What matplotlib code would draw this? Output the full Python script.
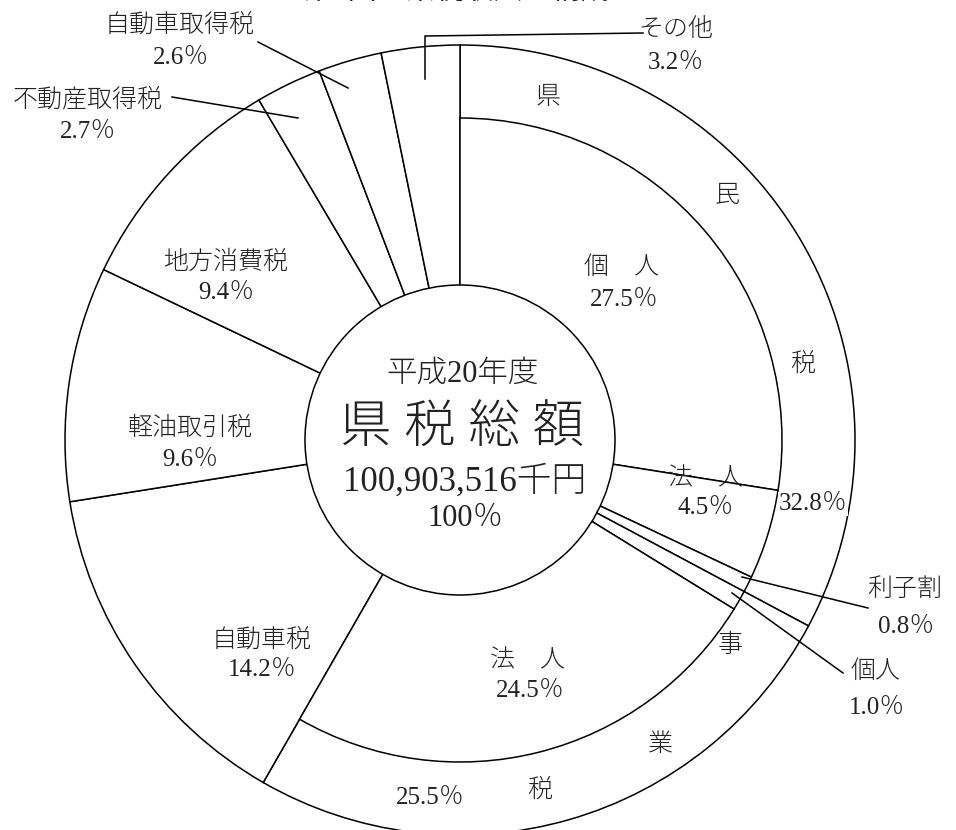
import matplotlib
matplotlib.use("Agg")
import matplotlib.pyplot as plt
from matplotlib.patches import Circle

plt.rcParams['font.family'] = ['Liberation Serif', 'Noto Sans CJK JP']

# Tax revenue by category (% of total)
main_labels = ["県民税", "事業税", "自動車税", "軽油取引税", "地方消費税",
               "不動産取得税", "自動車取得税", "その他"]
main_values = [32.8, 25.5, 14.2, 9.6, 9.4, 2.7, 2.6, 3.2]

# Breakdown of 県民税 (個人, 法人, 利子割) and 事業税 (個人, 法人)
sub_labels = ["個　人", "法　人", "利子割", "個人", "法　人"]
sub_values = [27.5, 4.5, 0.8, 1.0, 24.5]

fiscal_year = "平成20年度"
center_title = "県 税 総 額"
total_amount = "100,903,516千円"
total_share = "100％"
chart_title = "第2図　県税収入の構成"

W, H = 956, 830
CX, CY = 460, 440          # pie centre in pixels
R_OUT = 395                # outer radius in pixels
R_MID = 322 / R_OUT        # radius of the breakdown ring
R_IN = 155 / R_OUT         # centre disc


def P(x, y):
    """pixel position -> axes data coordinates (unit = outer radius)"""
    return (x - CX) / R_OUT, (CY - y) / R_OUT


def pct(v):
    return f"{v:.1f}％"


fig = plt.figure(figsize=(W / 100, H / 100), dpi=100)
ax = fig.add_axes([0, 0, 1, 1])

lw = 1.1
wp = dict(edgecolor='black', linewidth=lw)

ax.pie(main_values, radius=1.0, startangle=90, counterclock=False,
       colors=['white'] * len(main_values), wedgeprops=wp)

inner_values = sub_values + [sum(main_values[2:])]
inner_wedges, _ = ax.pie(inner_values, radius=R_MID, startangle=90,
                         counterclock=False,
                         colors=['white'] * len(inner_values), wedgeprops=wp)
inner_wedges[-1].set_visible(False)

ax.add_patch(Circle((0, 0), R_IN, facecolor='white', edgecolor='black',
                    linewidth=lw, zorder=5))

ax.set_xlim(-CX / R_OUT, (W - CX) / R_OUT)
ax.set_ylim(-(H - CY) / R_OUT, CY / R_OUT)
ax.set_aspect('equal')
ax.axis('off')

tc = '#222222'
LS = 18  # label font size


def txt(x, y, s, size=LS, **kw):
    ax.text(*P(x, y), s, fontsize=size, ha='center', va='center',
            color=tc, zorder=6, fontweight='light', **kw)


# centre disc
txt(462, 374, fiscal_year, size=22)
txt(462, 430, center_title, size=37)
txt(465, 482, total_amount, size=25)
txt(465, 518, total_share, size=22)

# group labels in the outer ring
for ch, (x, y) in zip("県民税", [(548, 98), (727, 196), (803, 364)]):
    txt(x, y, ch)
txt(813, 504, pct(main_values[0]),
    bbox=dict(facecolor='white', edgecolor='none', pad=0.5))
for ch, (x, y) in zip("事業税", [(730, 645), (660, 745), (540, 790)]):
    txt(x, y, ch)
txt(430, 798, pct(main_values[1]))

# breakdown labels
txt(622, 268, sub_labels[0])
txt(624, 300, pct(sub_values[0]))
txt(706, 479, sub_labels[1])
txt(706, 508, pct(sub_values[1]))
txt(528, 661, sub_labels[4])
txt(530, 691, pct(sub_values[4]))

# labels placed outside with leader lines
txt(905, 590, sub_labels[2])
txt(906, 627, pct(sub_values[2]))
ax.plot(*zip(P(742, 577), P(868, 608)), color='black', lw=lw, zorder=6)
txt(876, 672, sub_labels[3])
txt(877, 708, pct(sub_values[3]))
ax.plot(*zip(P(732, 593), P(843, 673)), color='black', lw=lw, zorder=6)

# other categories
txt(262, 640, main_labels[2])
txt(262, 670, pct(main_values[2]))
txt(190, 428, main_labels[3])
txt(190, 460, pct(main_values[3]))
txt(226, 262, main_labels[4])
txt(226, 293, pct(main_values[4]))

txt(88, 100, main_labels[5])
txt(88, 132, pct(main_values[5]))
ax.plot(*zip(P(172, 97), P(298, 118)), color='black', lw=lw, zorder=6)

txt(180, 25, main_labels[6])
txt(181, 58, pct(main_values[6]))
ax.plot(*zip(P(258, 42), P(348, 88)), color='black', lw=lw, zorder=6)

txt(676, 30, main_labels[7])
txt(676, 63, pct(main_values[7]))
ax.plot(*zip(P(425, 79), P(425, 36), P(643, 33)), color='black', lw=lw, zorder=6)

# chart title, mostly above the top edge
fig.text(457 / W, 1.0, chart_title, fontsize=21, ha='center',
         va='baseline', color=tc)

fig.savefig("out.png", dpi=100, facecolor='white')
